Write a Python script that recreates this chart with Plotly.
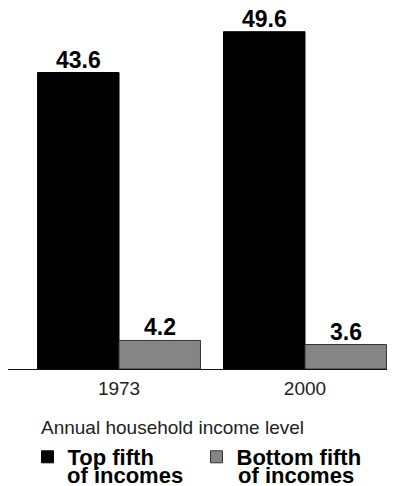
import plotly.graph_objects as go

years = ["1973", "2000"]
top_fifth = [43.6, 49.6]
bottom_fifth = [4.2, 3.6]
series_names = ["<b>Top fifth</b>", "<b>Bottom fifth</b>"]
series_second_line = "<b>of incomes</b>"
legend_title = "Annual household income level"

FONT = "Liberation Sans, Arial, Helvetica, sans-serif"
OFF = 8  # page body margin of the written html
W, H = 404 - OFF, 486 - OFF
ML, MR, MT, MB = 0, 17, 21, 117
PW, PH = W - ML - MR, H - MT - MB
XRANGE = [-0.597, 1.441]
BARGAP = 0.124
bar_px = PW / (XRANGE[1] - XRANGE[0]) * (1 - BARGAP) / 2


def px_to_paper(px, py):
    # px, py in figure pixels
    return (px - ML) / PW, (H - MB - py) / PH


fig = go.Figure()
fig.add_trace(go.Bar(
    x=years, y=top_fifth, name=series_names[0],
    marker=dict(color="#000000", line=dict(color="#000000", width=1)),
))
fig.add_trace(go.Bar(
    x=years, y=bottom_fifth, name=series_names[1],
    marker=dict(color="#858585", line=dict(color="#333333", width=1)),
))

annotations = []
# value labels above the bars (category index on the x axis)
for vals, side in ((top_fifth, -1), (bottom_fifth, 1)):
    for i, v in enumerate(vals):
        annotations.append(dict(text=f"<b>{v:.1f}</b>", x=i, y=v, xref="x", yref="y",
                                xanchor="center", yanchor="bottom", showarrow=False,
                                xshift=side * bar_px / 2, yshift=-2,
                                font=dict(size=23, color="#000000")))

tx, ty = px_to_paper(31, 407)
annotations.append(dict(text=legend_title, x=tx, y=ty, xref="paper", yref="paper",
                        xanchor="left", yanchor="top", showarrow=False,
                        font=dict(size=19, color="#222222")))
for px in (57, 228):
    ax, ay = px_to_paper(px, 453)
    annotations.append(dict(text=series_second_line, x=ax, y=ay, xref="paper", yref="paper",
                            xanchor="left", yanchor="top", showarrow=False,
                            font=dict(size=22, color="#000000")))

fig.update_layout(
    width=W, height=H,
    margin=dict(l=ML, r=MR, t=MT, b=MB, autoexpand=False),
    paper_bgcolor="white", plot_bgcolor="white",
    barmode="group", bargap=BARGAP, bargroupgap=0,
    font=dict(family=FONT, color="#111111"),
    showlegend=True,
    legend=dict(
        orientation="h", xref="container", yref="container",
        x=19.5 / W, xanchor="left", y=1 - 428 / H, yanchor="top",
        font=dict(size=22, color="#000000"),
        valign="top", traceorder="normal",
        entrywidth=124, entrywidthmode="pixels",
        itemclick=False, itemdoubleclick=False,
    ),
    annotations=annotations,
)
fig.update_xaxes(
    type="category", range=XRANGE,
    showline=True, linecolor="#111111", linewidth=1,
    ticks="", showgrid=False, zeroline=False, ticklabelstandoff=2,
    tickfont=dict(size=19, color="#222222"),
)
fig.update_yaxes(range=[0, 50], visible=False, showgrid=False, zeroline=False)

fig.write_html("out.html")
